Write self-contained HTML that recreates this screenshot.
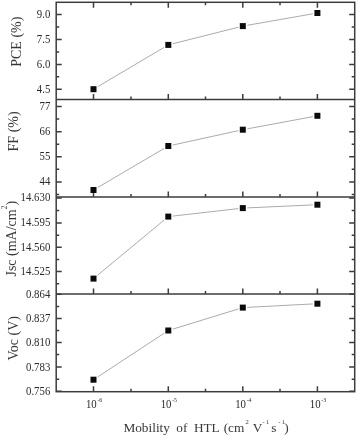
<!DOCTYPE html><html><head><meta charset="utf-8"><style>html,body{margin:0;padding:0;background:#fff;width:357px;height:436px;overflow:hidden}svg{display:block;filter:blur(0.3px)}text{font-family:"Liberation Serif",serif;fill:#383838}.tk{fill:#2a2a2a}</style></head><body>
<svg width="357" height="436" viewBox="0 0 357 436">
<line x1="97.79" y1="86.66" x2="164.01" y2="47.44" stroke="#a2a2a2" stroke-width="0.9"/>
<line x1="172.75" y1="43.78" x2="238.35" y2="27.22" stroke="#a2a2a2" stroke-width="0.9"/>
<line x1="247.28" y1="25.31" x2="312.92" y2="13.79" stroke="#a2a2a2" stroke-width="0.9"/>
<line x1="97.79" y1="187.47" x2="164.01" y2="148.53" stroke="#a2a2a2" stroke-width="0.9"/>
<line x1="172.77" y1="145.02" x2="238.33" y2="130.68" stroke="#a2a2a2" stroke-width="0.9"/>
<line x1="247.27" y1="128.87" x2="312.93" y2="116.63" stroke="#a2a2a2" stroke-width="0.9"/>
<line x1="97.65" y1="275.16" x2="164.15" y2="220.04" stroke="#a2a2a2" stroke-width="0.9"/>
<line x1="172.79" y1="216.09" x2="238.31" y2="208.61" stroke="#a2a2a2" stroke-width="0.9"/>
<line x1="247.30" y1="207.89" x2="312.90" y2="204.91" stroke="#a2a2a2" stroke-width="0.9"/>
<line x1="97.75" y1="376.90" x2="164.05" y2="333.30" stroke="#a2a2a2" stroke-width="0.9"/>
<line x1="172.73" y1="329.14" x2="238.37" y2="308.96" stroke="#a2a2a2" stroke-width="0.9"/>
<line x1="247.30" y1="307.36" x2="312.90" y2="303.94" stroke="#a2a2a2" stroke-width="0.9"/>
<path d="M56.2 14.5h5.5M354.7 14.5h-5.5M56.2 39.4h5.5M354.7 39.4h-5.5M56.2 64.4h5.5M354.7 64.4h-5.5M56.2 89.3h5.5M354.7 89.3h-5.5M56.2 27.0h3.0M354.7 27.0h-3.0M56.2 51.9h3.0M354.7 51.9h-3.0M56.2 76.8h3.0M354.7 76.8h-3.0M93.5 99.6v-5.5M168.3 99.6v-5.5M242.8 99.6v-5.5M317.4 99.6v-5.5M131.0 99.6v-3.0M205.5 99.6v-3.0M280.0 99.6v-3.0M56.2 106.4h5.5M354.7 106.4h-5.5M56.2 131.7h5.5M354.7 131.7h-5.5M56.2 156.7h5.5M354.7 156.7h-5.5M56.2 182.0h5.5M354.7 182.0h-5.5M56.2 119.0h3.0M354.7 119.0h-3.0M56.2 144.2h3.0M354.7 144.2h-3.0M56.2 169.3h3.0M354.7 169.3h-3.0M56.2 194.6h3.0M354.7 194.6h-3.0M93.5 197.0v-5.5M168.3 197.0v-5.5M242.8 197.0v-5.5M317.4 197.0v-5.5M131.0 197.0v-3.0M205.5 197.0v-3.0M280.0 197.0v-3.0M56.2 198.0h5.5M354.7 198.0h-5.5M56.2 223.0h5.5M354.7 223.0h-5.5M56.2 247.3h5.5M354.7 247.3h-5.5M56.2 271.4h5.5M354.7 271.4h-5.5M56.2 210.5h3.0M354.7 210.5h-3.0M56.2 235.2h3.0M354.7 235.2h-3.0M56.2 259.4h3.0M354.7 259.4h-3.0M56.2 283.7h3.0M354.7 283.7h-3.0M93.5 294.1v-5.5M168.3 294.1v-5.5M242.8 294.1v-5.5M317.4 294.1v-5.5M131.0 294.1v-3.0M205.5 294.1v-3.0M280.0 294.1v-3.0M56.2 294.2h5.5M354.7 294.2h-5.5M56.2 318.4h5.5M354.7 318.4h-5.5M56.2 342.5h5.5M354.7 342.5h-5.5M56.2 367.1h5.5M354.7 367.1h-5.5M56.2 391.3h5.5M354.7 391.3h-5.5M56.2 306.4h3.0M354.7 306.4h-3.0M56.2 330.5h3.0M354.7 330.5h-3.0M56.2 354.6h3.0M354.7 354.6h-3.0M56.2 379.2h3.0M354.7 379.2h-3.0M93.5 391.7v-5.5M168.3 391.7v-5.5M242.8 391.7v-5.5M317.4 391.7v-5.5M131.0 391.7v-3.0M205.5 391.7v-3.0M280.0 391.7v-3.0M93.5 2.3v5.5M168.3 2.3v5.5M242.8 2.3v5.5M317.4 2.3v5.5M131.0 2.3v3.0M205.5 2.3v3.0M280.0 2.3v3.0" stroke="#3c3c3c" stroke-width="1.5" fill="none"/>
<rect x="56.2" y="2.3" width="298.50" height="389.40" stroke="#3c3c3c" stroke-width="1.5" fill="none"/>
<line x1="56.2" y1="99.6" x2="354.7" y2="99.6" stroke="#3c3c3c" stroke-width="1.5"/>
<line x1="56.2" y1="197.0" x2="354.7" y2="197.0" stroke="#3c3c3c" stroke-width="1.5"/>
<line x1="56.2" y1="294.1" x2="354.7" y2="294.1" stroke="#3c3c3c" stroke-width="1.5"/>
<rect x="90.50" y="86.20" width="6.0" height="6.0" fill="#0a0a0a"/>
<rect x="165.30" y="41.90" width="6.0" height="6.0" fill="#0a0a0a"/>
<rect x="239.80" y="23.10" width="6.0" height="6.0" fill="#0a0a0a"/>
<rect x="314.40" y="10.00" width="6.0" height="6.0" fill="#0a0a0a"/>
<rect x="90.50" y="187.00" width="6.0" height="6.0" fill="#0a0a0a"/>
<rect x="165.30" y="143.00" width="6.0" height="6.0" fill="#0a0a0a"/>
<rect x="239.80" y="126.70" width="6.0" height="6.0" fill="#0a0a0a"/>
<rect x="314.40" y="112.80" width="6.0" height="6.0" fill="#0a0a0a"/>
<rect x="90.50" y="275.60" width="6.0" height="6.0" fill="#0a0a0a"/>
<rect x="165.30" y="213.60" width="6.0" height="6.0" fill="#0a0a0a"/>
<rect x="239.80" y="205.10" width="6.0" height="6.0" fill="#0a0a0a"/>
<rect x="314.40" y="201.70" width="6.0" height="6.0" fill="#0a0a0a"/>
<rect x="90.50" y="376.70" width="6.0" height="6.0" fill="#0a0a0a"/>
<rect x="165.30" y="327.50" width="6.0" height="6.0" fill="#0a0a0a"/>
<rect x="239.80" y="304.60" width="6.0" height="6.0" fill="#0a0a0a"/>
<rect x="314.40" y="300.70" width="6.0" height="6.0" fill="#0a0a0a"/>
<text transform="translate(50.3,17.90) scale(1,1.1)" class="tk" font-size="10.8" text-anchor="end">9.0</text>
<text transform="translate(50.3,42.80) scale(1,1.1)" class="tk" font-size="10.8" text-anchor="end">7.5</text>
<text transform="translate(50.3,67.80) scale(1,1.1)" class="tk" font-size="10.8" text-anchor="end">6.0</text>
<text transform="translate(50.3,92.70) scale(1,1.1)" class="tk" font-size="10.8" text-anchor="end">4.5</text>
<text transform="translate(50.3,109.80) scale(1,1.1)" class="tk" font-size="10.8" text-anchor="end">77</text>
<text transform="translate(50.3,135.10) scale(1,1.1)" class="tk" font-size="10.8" text-anchor="end">66</text>
<text transform="translate(50.3,160.10) scale(1,1.1)" class="tk" font-size="10.8" text-anchor="end">55</text>
<text transform="translate(50.3,185.40) scale(1,1.1)" class="tk" font-size="10.8" text-anchor="end">44</text>
<text transform="translate(50.3,201.40) scale(1,1.1)" class="tk" font-size="10.8" text-anchor="end">14.630</text>
<text transform="translate(50.3,226.40) scale(1,1.1)" class="tk" font-size="10.8" text-anchor="end">14.595</text>
<text transform="translate(50.3,250.70) scale(1,1.1)" class="tk" font-size="10.8" text-anchor="end">14.560</text>
<text transform="translate(50.3,274.80) scale(1,1.1)" class="tk" font-size="10.8" text-anchor="end">14.525</text>
<text transform="translate(50.3,297.60) scale(1,1.1)" class="tk" font-size="10.8" text-anchor="end">0.864</text>
<text transform="translate(50.3,321.80) scale(1,1.1)" class="tk" font-size="10.8" text-anchor="end">0.837</text>
<text transform="translate(50.3,345.90) scale(1,1.1)" class="tk" font-size="10.8" text-anchor="end">0.810</text>
<text transform="translate(50.3,370.50) scale(1,1.1)" class="tk" font-size="10.8" text-anchor="end">0.783</text>
<text transform="translate(50.3,394.70) scale(1,1.1)" class="tk" font-size="10.8" text-anchor="end">0.756</text>
<text transform="translate(85.90,407.9) scale(1,1.1)" class="tk" font-size="10.8">10<tspan font-size="5.8" dx="0.7" dy="-5.6">-6</tspan></text>
<text transform="translate(160.70,407.9) scale(1,1.1)" class="tk" font-size="10.8">10<tspan font-size="5.8" dx="0.7" dy="-5.6">-5</tspan></text>
<text transform="translate(235.20,407.9) scale(1,1.1)" class="tk" font-size="10.8">10<tspan font-size="5.8" dx="0.7" dy="-5.6">-4</tspan></text>
<text transform="translate(309.80,407.9) scale(1,1.1)" class="tk" font-size="10.8">10<tspan font-size="5.8" dx="0.7" dy="-5.6">-3</tspan></text>
<text transform="translate(20.6,41.7) rotate(-90)" font-size="14.0" text-anchor="middle">PCE (%)</text>
<text transform="translate(18.1,131.4) rotate(-90)" font-size="14.0" text-anchor="middle">FF (%)</text>
<text transform="translate(15.6,238.7) rotate(-90)" font-size="14.0" text-anchor="middle">Jsc (mA/cm<tspan font-size="7.5" dy="-8.6">2</tspan><tspan dy="8.6">)</tspan></text>
<text transform="translate(17.5,338.3) rotate(-90)" font-size="14.0" text-anchor="middle">Voc (V)</text>
<text x="123.4" y="431.6" font-size="13.3">Mobility</text>
<text x="176.3" y="431.6" font-size="13.3">of</text>
<text x="193.9" y="431.6" font-size="13.3">HTL</text>
<text x="223.7" y="431.6" font-size="13.3">(cm</text>
<text x="252.7" y="431.6" font-size="13.3">V</text>
<text x="271.3" y="431.6" font-size="13.3">s</text>
<text x="284.3" y="431.6" font-size="13.3">)</text>
<text x="245.6" y="424.2" font-size="6.6" letter-spacing="0">2</text>
<text x="262.6" y="424.2" font-size="6.6" letter-spacing="1.2">-1</text>
<text x="278.3" y="424.2" font-size="6.6" letter-spacing="1.2">-1</text>
</svg></body></html>
